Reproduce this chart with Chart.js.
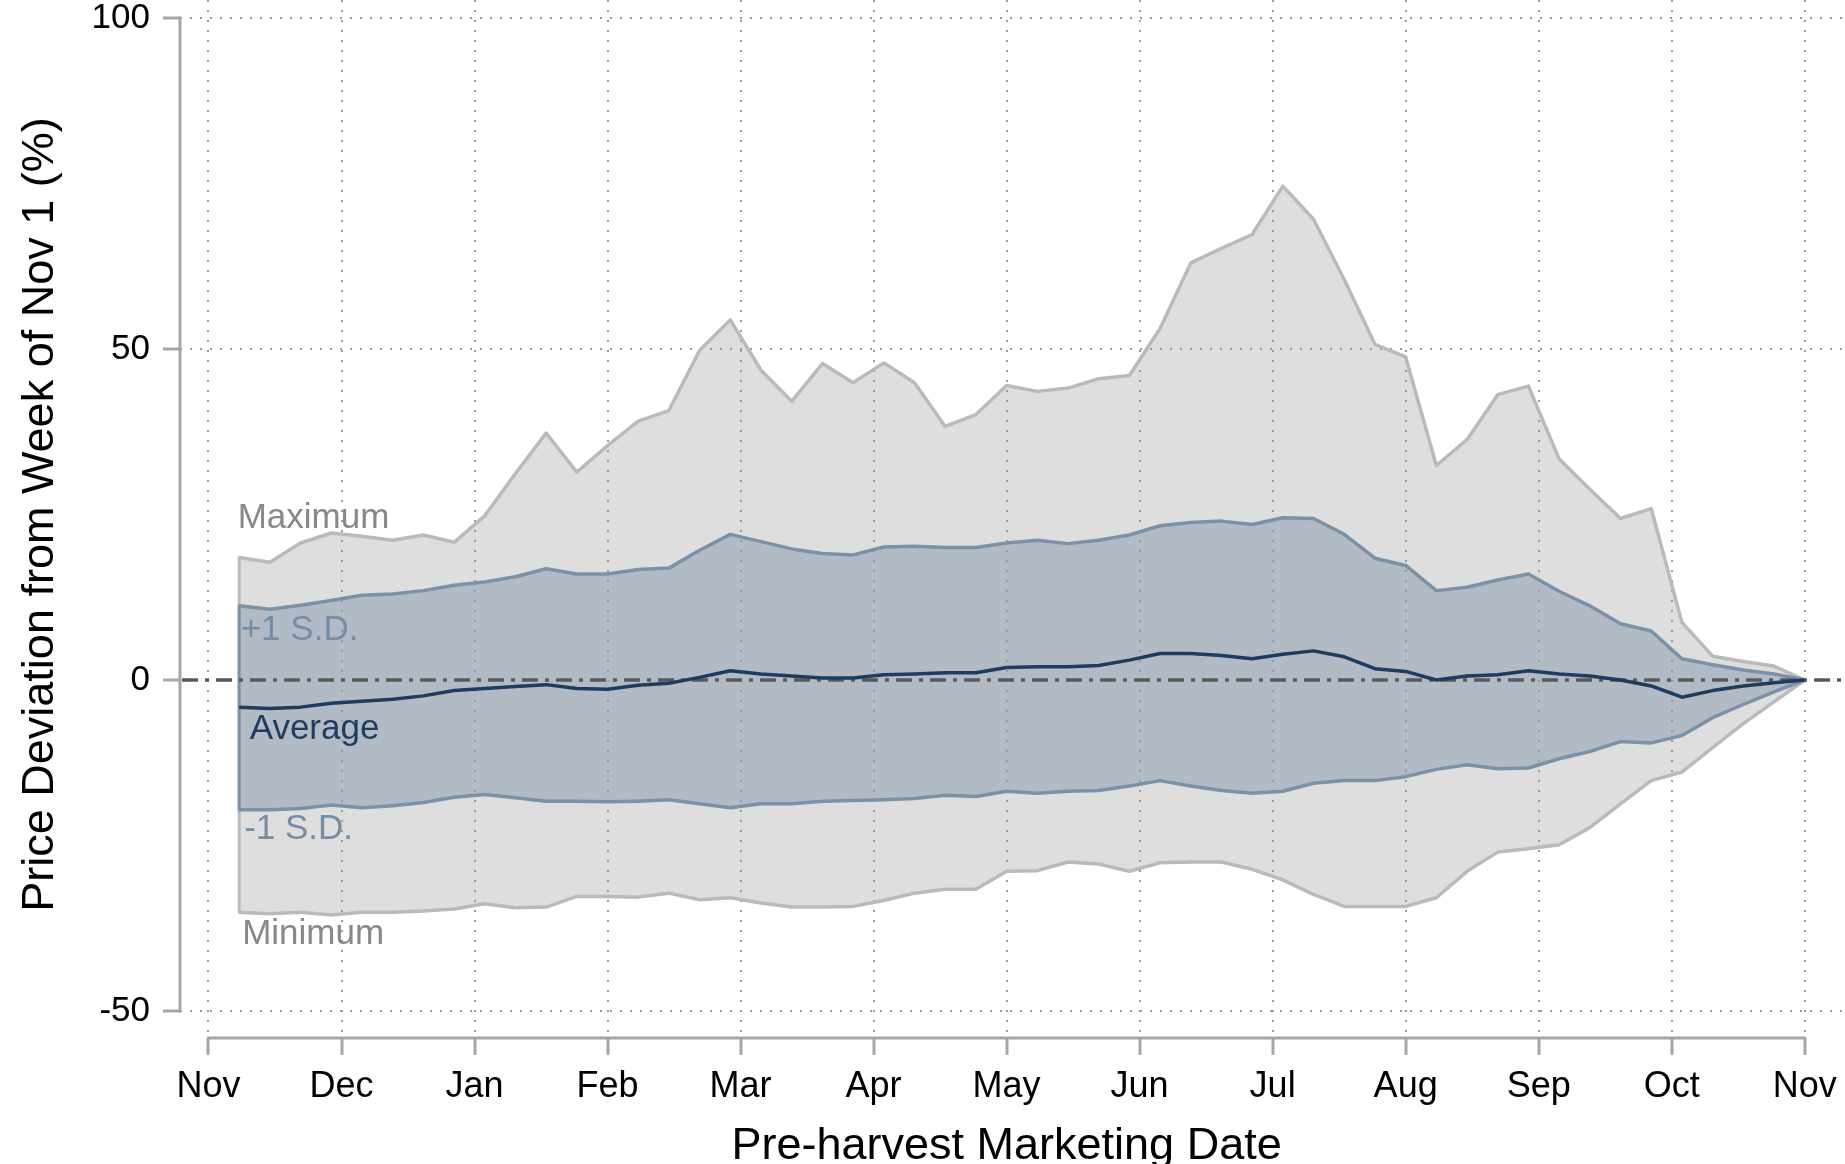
<!DOCTYPE html>
<html>
<head>
<meta charset="utf-8">
<script src="https://cdn.jsdelivr.net/npm/chart.js@4.4.1/dist/chart.umd.min.js"></script>
<style>
html,body{margin:0;padding:0;background:#ffffff;}
#wrap{width:1845px;height:1164px;position:relative;}
</style>
</head>
<body>
<div id="wrap"><canvas id="c" width="1845" height="1164"></canvas></div>
<script>
// ---------- data ----------
const monthLabels = ['Nov','Dec','Jan','Feb','Mar','Apr','May','Jun','Jul','Aug','Sep','Oct','Nov'];
const weeks = [1,2,3,4,5,6,7,8,9,10,11,12,13,14,15,16,17,18,19,20,21,22,23,24,25,26,
               27,28,29,30,31,32,33,34,35,36,37,38,39,40,41,42,43,44,45,46,47,48,49,50,51,52];
const maxVals = [18.5,17.8,20.7,22.2,21.7,21.1,21.9,20.8,24.8,31.2,
                 37.3,31.4,35.4,39.1,40.7,49.8,54.4,46.8,42.1,47.8,
                 44.9,47.9,44.9,38.3,40.1,44.5,43.6,44.1,45.5,46.0,
                 53.1,63.0,65.2,67.3,74.6,69.6,60.5,50.7,48.8,32.4,
                 36.3,43.1,44.4,33.4,28.8,24.4,25.9,8.7,3.6,2.8,
                 2.1,0];
const sdUpVals = [11.2,10.7,11.3,12.0,12.8,13.0,13.5,14.3,14.8,15.6,
                  16.8,16.0,16.0,16.7,16.9,19.6,22.0,20.9,19.8,19.1,
                  18.9,20.1,20.2,20.0,20.0,20.7,21.1,20.6,21.1,21.9,
                  23.3,23.8,24.0,23.5,24.5,24.4,22.0,18.4,17.3,13.5,
                  14.0,15.1,16.0,13.4,11.2,8.5,7.4,3.2,2.3,1.5,
                  0.9,0];
const avgVals = [-4.1,-4.3,-4.1,-3.5,-3.2,-2.9,-2.4,-1.6,-1.3,-1.0,
                 -0.7,-1.3,-1.4,-0.8,-0.5,0.4,1.4,0.9,0.6,0.3,
                 0.3,0.8,0.9,1.1,1.1,1.9,2.0,2.0,2.2,3.0,
                 4.0,4.0,3.7,3.2,3.9,4.4,3.5,1.7,1.3,0.0,
                 0.6,0.8,1.4,0.9,0.6,0.0,-0.9,-2.6,-1.6,-0.9,
                 -0.4,0];
const sdDnVals = [-19.6,-19.6,-19.4,-18.9,-19.3,-19.0,-18.5,-17.7,-17.3,-17.8,
                  -18.3,-18.3,-18.4,-18.3,-18.1,-18.7,-19.3,-18.7,-18.7,-18.3,
                  -18.2,-18.1,-17.9,-17.4,-17.6,-16.8,-17.1,-16.8,-16.7,-16.0,
                  -15.2,-16.0,-16.7,-17.1,-16.8,-15.6,-15.2,-15.2,-14.6,-13.5,
                  -12.8,-13.4,-13.3,-11.9,-10.8,-9.3,-9.5,-8.4,-5.7,-3.7,
                  -1.8,0];
const minVals = [-35.1,-35.3,-35.1,-35.5,-35.1,-35.1,-34.9,-34.6,-33.8,-34.4,
                 -34.3,-32.7,-32.7,-32.8,-32.2,-33.2,-32.9,-33.7,-34.3,-34.3,
                 -34.2,-33.3,-32.2,-31.6,-31.6,-28.9,-28.8,-27.5,-27.8,-28.9,
                 -27.6,-27.5,-27.5,-28.6,-30.2,-32.4,-34.2,-34.2,-34.2,-32.9,
                 -28.9,-26.0,-25.5,-24.9,-22.3,-18.7,-15.2,-13.9,-10.2,-6.6,
                 -3.3,0];
const yTickValues = [-50, 0, 50, 100];
const weeksInYear = 52;
const yTitle = 'Price Deviation from Week of Nov 1 (%)';
const xTitle = 'Pre-harvest Marketing Date';

// ---------- styling ----------
const FONT = '"Liberation Sans", Arial, Helvetica, sans-serif';
const C = {
  bandOuter: '#dedede', lineOuter: '#bababa',
  bandInner: '#b2bbc5', lineInner: '#7b91a7',
  avg: '#1d3c5f', zero: '#5a5a5a', grid: '#9a9a9a', axis: '#a6a6a6',
  lblOuter: '#888888', lblInner: '#758da6', lblAvg: '#1d3c5f'
};

const pts = arr => arr.map((v, i) => ({x: weeks[i], y: v}));
const monthTicks = monthLabels.map((_, i) => i * weeksInYear / 12);

const inPlotLabels = [
  {text: 'Maximum', y: 22.96, dx: -1.5, color: C.lblOuter},
  {text: '+1 S.D.', y: 6.04,  dx: 1.5,  color: C.lblInner},
  {text: 'Average', y: -8.84, dx: 10.5, color: C.lblAvg},
  {text: '-1 S.D.', y: -24.02, dx: 5,   color: C.lblInner},
  {text: 'Minimum', y: -39.88, dx: 3,   color: C.lblOuter}
];

const decor = {
  id: 'decor',
  beforeDatasetDraw(chart, args) {
    if (args.index !== 0) return;
    const {ctx, chartArea, scales: {y}} = chart;
    const y0 = y.getPixelForValue(0);
    ctx.save();
    ctx.strokeStyle = C.zero;
    ctx.lineWidth = 3.5;
    ctx.setLineDash([16, 7, 4, 7]);
    ctx.beginPath();
    ctx.moveTo(chartArea.left + 2, y0);
    ctx.lineTo(chartArea.right, y0);
    ctx.stroke();
    ctx.restore();
  },
  afterDraw(chart) {
    const {ctx, chartArea, scales: {x, y}} = chart;
    ctx.save();
    // axis lines (only over the tick range)
    ctx.strokeStyle = C.axis;
    ctx.lineWidth = 3;
    ctx.lineCap = 'square';
    ctx.beginPath();
    ctx.moveTo(chartArea.left, y.getPixelForValue(yTickValues[yTickValues.length - 1]));
    ctx.lineTo(chartArea.left, y.getPixelForValue(yTickValues[0]));
    ctx.moveTo(x.getPixelForValue(monthTicks[0]), chartArea.bottom);
    ctx.lineTo(x.getPixelForValue(monthTicks[monthTicks.length - 1]), chartArea.bottom);
    ctx.stroke();

    // in-plot labels
    ctx.font = '35px ' + FONT;
    ctx.textAlign = 'left';
    ctx.textBaseline = 'alphabetic';
    const x0 = x.getPixelForValue(weeks[0]);
    inPlotLabels.forEach(l => {
      ctx.fillStyle = l.color;
      ctx.fillText(l.text, x0 + l.dx, y.getPixelForValue(l.y));
    });

    // axis titles
    ctx.fillStyle = '#000000';
    ctx.font = '45px ' + FONT;
    ctx.textAlign = 'center';
    const xc = (x.getPixelForValue(monthTicks[0]) + x.getPixelForValue(monthTicks[monthTicks.length - 1])) / 2;
    ctx.fillText(xTitle, xc, chartArea.bottom + 121);
    const yc = (y.getPixelForValue(yTickValues[0]) + y.getPixelForValue(yTickValues[yTickValues.length - 1])) / 2;
    ctx.translate(53, yc);
    ctx.rotate(-Math.PI / 2);
    ctx.fillText(yTitle, 0, 0);
    ctx.restore();
  }
};

Chart.defaults.font.family = FONT;

new Chart(document.getElementById('c'), {
  type: 'line',
  data: {
    datasets: [
      {label: 'Average', data: pts(avgVals), borderColor: C.avg, borderWidth: 3.5, fill: false, order: 0},
      {label: '+1 S.D.', data: pts(sdUpVals), borderColor: C.lineInner, borderWidth: 3.5,
       backgroundColor: C.bandInner, fill: 2, order: 1},
      {label: '-1 S.D.', data: pts(sdDnVals), borderColor: C.lineInner, borderWidth: 3.5, fill: false, order: 2},
      {label: 'inner edge', data: [{x: weeks[0], y: sdUpVals[0]}, {x: weeks[0], y: sdDnVals[0]}],
       borderColor: C.lineInner, borderWidth: 3, fill: false, order: 3},
      {label: 'Maximum', data: pts(maxVals), borderColor: C.lineOuter, borderWidth: 3.5,
       backgroundColor: C.bandOuter, fill: 5, order: 4},
      {label: 'Minimum', data: pts(minVals), borderColor: C.lineOuter, borderWidth: 3.5, fill: false, order: 5},
      {label: 'outer edge', data: [{x: weeks[0], y: maxVals[0]}, {x: weeks[0], y: minVals[0]}],
       borderColor: C.lineOuter, borderWidth: 3, fill: false, order: 6}
    ]
  },
  options: {
    responsive: false,
    animation: false,
    devicePixelRatio: 1,
    layout: {padding: 0, autoPadding: false},
    elements: {point: {radius: 0, hoverRadius: 0}, line: {tension: 0, borderJoinStyle: 'round'}},
    plugins: {
      legend: {display: false},
      tooltip: {enabled: false},
      filler: {propagate: false, drawTime: 'beforeDraw'}
    },
    scales: {
      x: {
        type: 'linear', min: -0.928, max: 53.313,
        afterBuildTicks: s => { s.ticks = monthTicks.map(v => ({value: v})); },
        afterFit: s => { s.height = 126; s.paddingLeft = 0; s.paddingRight = 0; },
        grid: {color: C.grid, lineWidth: 2, drawTicks: true, tickLength: 17,
               tickColor: C.axis, tickWidth: 3},
        border: {display: false, dash: [2, 8]},
        ticks: {color: '#000000', font: {size: 36}, padding: 10, maxRotation: 0, minRotation: 0,
                autoSkip: false, callback: (v, i) => monthLabels[i]}
      },
      y: {
        type: 'linear', min: -54.08, max: 102.72,
        afterBuildTicks: s => { s.ticks = yTickValues.map(v => ({value: v})); },
        afterFit: s => { s.width = 180; s.paddingTop = 0; s.paddingBottom = 0; },
        grid: {color: c => (c.tick && c.tick.value === 0) ? 'rgba(0,0,0,0)' : C.grid,
               lineWidth: 2, drawTicks: true, tickLength: 17, tickColor: C.axis, tickWidth: 3},
        border: {display: false, dash: [2, 8]},
        ticks: {color: '#000000', font: {size: 35}, padding: 13, callback: v => String(v)}
      }
    }
  },
  plugins: [decor]
});
</script>
</body>
</html>
